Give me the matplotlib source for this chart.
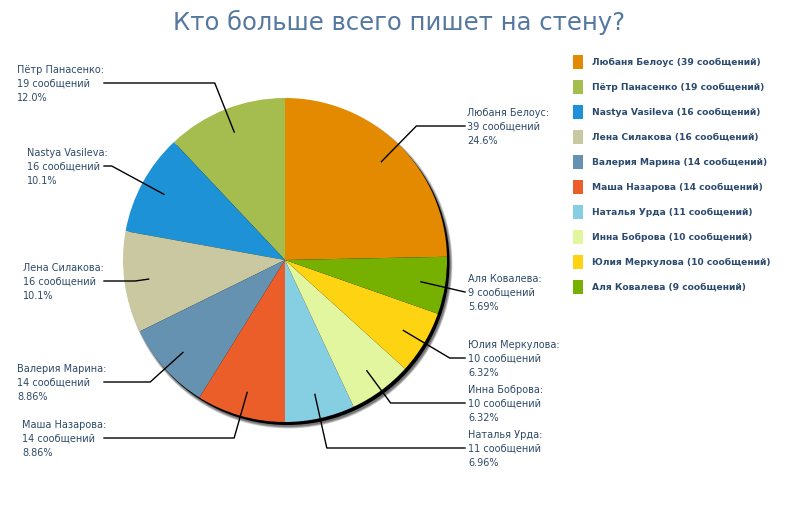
import math
import matplotlib
matplotlib.use("Agg")
import matplotlib.pyplot as plt
from matplotlib.patches import Circle, Rectangle

names = ["Любаня Белоус", "Пётр Панасенко", "Nastya Vasileva", "Лена Силакова",
         "Валерия Марина", "Маша Назарова", "Наталья Урда", "Инна Боброва",
         "Юлия Меркулова", "Аля Ковалева"]
counts = [39, 19, 16, 16, 14, 14, 11, 10, 10, 9]
colors = ["#E38A00", "#A5BC4E", "#1E92D6", "#C9C8A0", "#6592B0",
          "#EB5E29", "#86CFE2", "#E2F59F", "#FDD312", "#76B000"]

# label layout (pixels from top-left): text x, middle line y, side
label_x = [467, 17, 27, 23, 17, 22, 468, 468, 468, 468]
label_y = [127, 84, 167, 282, 383, 439, 449, 404, 359, 293]
label_side = ["r", "l", "l", "l", "l", "l", "r", "r", "r", "r"]

W, H = 800, 520
cx, cy, R = 285, 260, 162
txt_color = "#2E4A68"


def Y(y):  # top-based pixel -> axes coords
    return H - y


def trunc_pct(p):
    k = 2 - int(math.floor(math.log10(p)))
    v = math.floor(p * 10 ** k + 1e-9) / 10 ** k
    return f"{v:.{k}f}%"


total = sum(counts)

fig = plt.figure(figsize=(8, 5.2), dpi=100)
ax = fig.add_axes([0, 0, 1, 1])

# shadow to the lower right: dark core, soft fringe
for i in range(5):
    ax.add_patch(Circle((cx + 3.5, Y(cy) - 4.5), R + 2 - i * 0.5,
                        color="black", alpha=0.14, lw=0, zorder=1))
ax.add_patch(Circle((cx + 2.5, Y(cy) - 3), R, color="black", lw=0, zorder=1))

wedges, _ = ax.pie(counts, colors=colors, center=(cx, Y(cy)), radius=R,
                   startangle=90 - 360 * counts[0] / total, counterclock=True,
                   wedgeprops=dict(linewidth=0.4, edgecolor="none"), frame=True)
for w in wedges:
    w.set_zorder(2)
ax.set_xlim(0, W)
ax.set_ylim(0, H)
ax.set_aspect("equal")
ax.axis("off")

for i, w in enumerate(wedges):
    th = math.radians((w.theta1 + w.theta2) / 2)
    x0 = cx + 0.85 * R * math.cos(th)
    y0 = Y(cy) + 0.85 * R * math.sin(th)
    ly = Y(label_y[i]) + 1
    xend = 465 if label_side[i] == "r" else 104
    pts = [(x0, y0)]
    s = math.sin(th)
    if abs(s) > 1e-6:
        re = (ly - Y(cy)) / s
        xe = cx + re * math.cos(th)
        ok = re > 0.85 * R and (xe < xend if label_side[i] == "r" else xe > xend)
        if ok:
            pts.append((xe, ly))
    pts.append((xend, ly))
    ax.plot([p[0] for p in pts], [p[1] for p in pts], color="black", lw=1, zorder=4)

    txt = f"{names[i]}:\n{counts[i]} сообщений\n{trunc_pct(100 * counts[i] / total)}"
    ax.text(label_x[i], Y(label_y[i]), txt, fontsize=7.0, color=txt_color,
            ha="left", va="center", linespacing=1.5, zorder=5)

# legend
for i in range(len(names)):
    ry = 62 + 25 * i
    ax.add_patch(Rectangle((573, Y(ry) - 7), 10, 14, color=colors[i], lw=0, zorder=3))
    ax.text(592, Y(ry), f"{names[i]} ({counts[i]} сообщений)", fontsize=6.6,
            fontweight="bold", color="#2B4A6E", ha="left", va="center")

ax.text(399, Y(22), "Кто больше всего пишет на стену?", fontsize=17.5,
        color="#5578A0", ha="center", va="center")

fig.savefig("out.png", dpi=100, facecolor="white")
